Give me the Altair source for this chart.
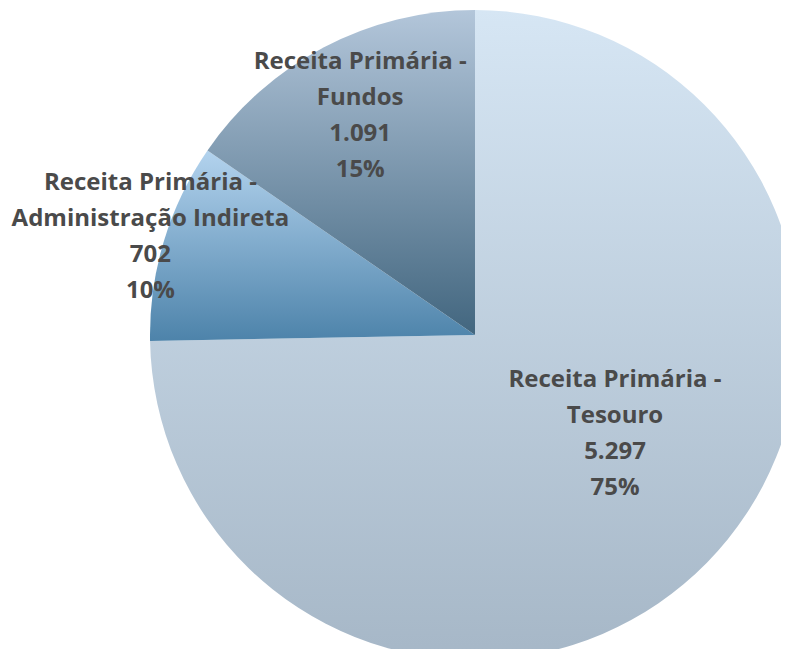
import altair as alt
import pandas as pd

categories = ["Receita Primária - Tesouro", "Receita Primária - Administração Indireta", "Receita Primária - Fundos"]
label_lines = [
    ["Receita Primária -", "Tesouro"],
    ["Receita Primária -", "Administração Indireta"],
    ["Receita Primária -", "Fundos"],
]
values = [5297, 702, 1091]
value_labels = ["5.297", "702", "1.091"]
pct_labels = ["75%", "10%", "15%"]
order = [0, 1, 2]

df = pd.DataFrame({
    "cat": categories,
    "value": values,
    "vlabel": value_labels,
    "pct": pct_labels,
    "order": order,
})
df["label"] = [lines + [v, p] for lines, v, p in zip(label_lines, value_labels, pct_labels)]
total = sum(values)

gradients = [
    alt.Gradient(gradient="linear", x1=0, y1=0, x2=0, y2=1,
                 stops=[alt.GradientStop(color="#d6e6f4", offset=0), alt.GradientStop(color="#a6b7c7", offset=1)]),
    alt.Gradient(gradient="linear", x1=0, y1=0, x2=0, y2=1,
                 stops=[alt.GradientStop(color="#b3d3ee", offset=0), alt.GradientStop(color="#4d83aa", offset=1)]),
    alt.Gradient(gradient="linear", x1=0, y1=0, x2=0, y2=1,
                 stops=[alt.GradientStop(color="#b3c6da", offset=0), alt.GradientStop(color="#42667f", offset=1)]),
]

CX, CY, R = 467, 327, 325
theta_scale = alt.Scale(domain=[0, total], range=[0, 6.283185307179586])

base = alt.Chart(df).transform_window(
    cum="sum(value)", sort=[alt.SortField("order")], frame=[None, 0]
).transform_calculate(
    start="datum.cum - datum.value",
    mid="datum.cum - datum.value / 2",
)

layers = []
for i, cat in enumerate(categories):
    layers.append(
        base.transform_filter(alt.datum.cat == cat).mark_arc(
            color=gradients[i], outerRadius=R, x=CX, y=CY
        ).encode(
            theta=alt.Theta("start:Q", scale=theta_scale),
            theta2="cum:Q",
        )
    )

LH = 36
label_pos = [
    (171, 18, -21),   # Tesouro: radius, dx, dy
    (339, 0, 0),      # Adm Indireta
    (247, 0, 0),      # Fundos
]
for i, cat in enumerate(categories):
    r, dx, dy = label_pos[i]
    layers.append(
        base.transform_filter(alt.datum.cat == cat).mark_text(
            x=CX, y=CY, radius=r, dx=dx, dy=dy - 1.5 * LH,
            font="Open Sans", fontWeight="bold", fontSize=24, color="#4a4a4a",
            lineHeight=LH, align="center", baseline="middle",
        ).encode(
            theta=alt.Theta("mid:Q", scale=theta_scale),
            text="label",
        )
    )

chart = alt.layer(*layers).properties(
    width=773, height=641, autosize="none", padding=0
).configure_view(stroke=None)

chart.save("out.html", embed_options={"renderer": "svg", "actions": False})
